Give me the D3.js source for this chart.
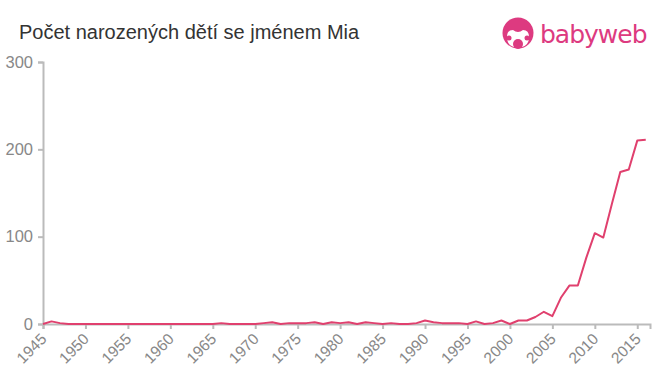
<!DOCTYPE html>
<html>
<head>
<meta charset="utf-8">
<script src="https://cdn.jsdelivr.net/npm/d3@7"></script>
<style>
    body { margin: 0; background: #fff; }
    svg { display: block; font-family: "Liberation Sans", Arial, sans-serif; }
</style>
</head>
<body>
<div id="chart"></div>
<script>
// Data: births per year with the name Mia
const years = d3.range(1945, 2017);
const counts = [
    0, 3, 1, 0, 0, 0, 0, 0, 0, 0,        // 1945-1954
    0, 0, 0, 0, 0, 0, 0, 0, 0, 0,        // 1955-1964
    0, 1, 0, 0, 0, 0, 1, 2, 0, 1,        // 1965-1974
    1, 1, 2, 0, 2, 1, 2, 0, 2, 1,        // 1975-1984
    0, 1, 0, 0, 1, 4, 2, 1, 1, 1,        // 1985-1994
    0, 3, 0, 1, 4, 0, 4, 4, 8, 14,       // 1995-2004
    9, 30, 44, 44, 76, 104, 99, 137, 174, 177, // 2005-2014
    210, 211                             // 2015-2016
];
const xTicks = d3.range(1945, 2020, 5);
const yTicks = [0, 100, 200, 300];
const title = 'Počet narozených dětí se jménem Mia';

const width = 660, height = 375;
const margin = { top: 62, right: 10, bottom: 51, left: 43 };
const plotH = height - margin.top - margin.bottom;

const svg = d3.select('#chart').append('svg')
    .attr('width', width)
    .attr('height', height);

const x = d3.scaleLinear().domain([1945, 2016.5]).range([margin.left, 650]);
const y = d3.scaleLinear().domain([0, 300]).range([margin.top + plotH, margin.top]);

// Title
svg.append('text')
    .attr('x', 19)
    .attr('y', 39)
    .attr('fill', '#333')
    .style('font-size', '20px')
    .text(title);

// Logo
const logo = svg.append('g').attr('transform', 'translate(518,33)');
logo.append('circle').attr('r', 15.5).attr('fill', '#dd3a80');
logo.append('path')
    .attr('d', 'M-11,4 Q-11,-3 -5,-3 Q0,1 5,-3 Q11,-3 11,4 Q11,12 4,14 L-4,14 Q-11,12 -11,4 Z')
    .attr('fill', '#fff');
logo.append('circle').attr('cx', 0).attr('cy', 11).attr('r', 5).attr('fill', '#dd3a80');
logo.append('circle').attr('cx', -9).attr('cy', 5).attr('r', 2.5).attr('fill', '#dd3a80');
logo.append('circle').attr('cx', 9).attr('cy', 5).attr('r', 2.5).attr('fill', '#dd3a80');
svg.append('text')
    .attr('x', 540)
    .attr('y', 43)
    .attr('fill', '#dd3a80')
    .style('font-size', '25px')
    .style('font-family', '"DejaVu Sans", sans-serif')
    .style('letter-spacing', '-1px')
    .text('babyweb');

// Y axis
const yAxis = svg.append('g')
    .attr('transform', `translate(${margin.left},0)`)
    .call(d3.axisLeft(y).tickValues(yTicks).tickSize(5).tickPadding(5));
yAxis.select('.domain').attr('stroke', '#bbb').attr('stroke-width', 2);
yAxis.selectAll('.tick line').attr('stroke', '#bbb').attr('stroke-width', 2);
yAxis.selectAll('.tick text')
    .attr('fill', '#888')
    .style('font-size', '16.5px')
    .style('font-family', '"Liberation Sans", Arial, sans-serif');

// X axis
const xAxis = svg.append('g')
    .attr('transform', `translate(0,${y(0)})`)
    .call(d3.axisBottom(x).tickValues(xTicks).tickFormat(d3.format('d')).tickSize(5));
xAxis.select('.domain').attr('stroke', '#bbb').attr('stroke-width', 2);
xAxis.selectAll('.tick line').attr('stroke', '#bbb').attr('stroke-width', 2);
xAxis.selectAll('.tick text')
    .attr('fill', '#888')
    .style('font-size', '15.5px')
    .style('font-family', '"Liberation Sans", Arial, sans-serif')
    .attr('text-anchor', 'end')
    .attr('x', 0)
    .attr('y', 0)
    .attr('dy', 0)
    .attr('transform', 'translate(4,16) rotate(-45)');

// Line
const line = d3.line()
    .x((d, i) => x(years[i]))
    .y(d => y(d));

svg.append('path')
    .datum(counts)
    .attr('d', line)
    .attr('fill', 'none')
    .attr('stroke', '#e0406e')
    .attr('stroke-width', 2)
    .attr('stroke-linejoin', 'round');
</script>
</body>
</html>
